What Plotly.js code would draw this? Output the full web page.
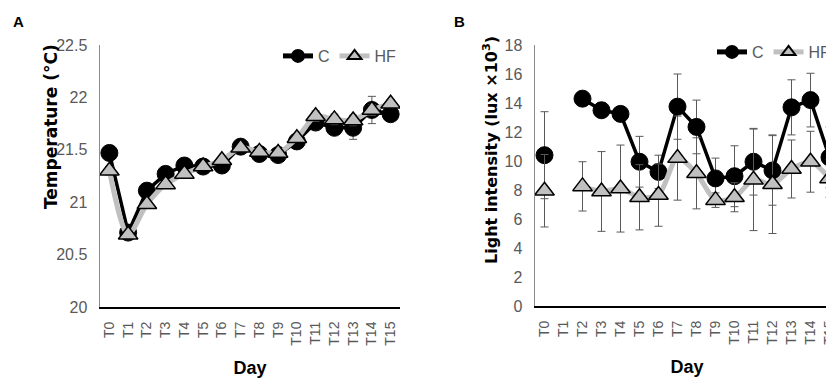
<!DOCTYPE html>
<html>
<head>
<meta charset="utf-8">
<script src="https://cdn.plot.ly/plotly-3.0.1.min.js"></script>
<style>
html, body { margin:0; padding:0; overflow:hidden; background:#fff; width:826px; height:378px; }
#chart { width:860px; height:378px; }
</style>
</head>
<body>
<div id="chart"></div>
<script>
// ---- data ----
var days = ["T0","T1","T2","T3","T4","T5","T6","T7","T8","T9","T10","T11","T12","T13","T14","T15"];

var tempC     = [21.47, 20.71, 21.11, 21.27, 21.35, 21.34, 21.35, 21.53, 21.46, 21.45, 21.58, 21.76, 21.71, 21.71, 21.88, 21.84];
var tempCErr  = [0.04, 0.04, 0.04, 0.03, 0.03, 0.03, 0.03, 0.03, 0.03, 0.03, 0.04, 0.05, 0.06, 0.11, 0.13, 0.04];
var tempHF    = [21.30, 20.69, 20.98, 21.17, 21.27, 21.34, 21.40, 21.52, 21.48, 21.47, 21.61, 21.82, 21.79, 21.78, 21.88, 21.94];
var tempHFErr = [0.04, 0.04, 0.04, 0.03, 0.03, 0.03, 0.03, 0.03, 0.03, 0.03, 0.04, 0.05, 0.05, 0.05, 0.05, 0.04];

var lightC     = [10.4, null, 14.3, 13.5, 13.25, 9.95, 9.25, 13.75, 12.35, 8.8, 8.95, 9.95, 9.35, 13.7, 14.2, 10.25];
var lightCErr  = [3.0, null, 0.5, 0.5, 0.5, 1.75, 1.15, 2.25, 1.85, 1.4, 2.1, 2.3, 2.4, 1.9, 1.85, 2.1];
var lightHF    = [7.95, null, 8.25, 7.9, 8.1, 7.5, 7.65, 10.2, 9.15, 7.3, 7.5, 8.7, 8.4, 9.45, 9.95, 8.8];
var lightHFErr = [2.5, null, 1.7, 2.75, 3.0, 2.25, 2.15, 2.9, 2.45, 0.5, 1.0, 3.5, 3.4, 2.0, 2.1, 1.3];

var yTitleA = "Temperature (°C)";
var yTitleB = "Light intensity (lux ×10<sup>3</sup>)";
var xTitle = "Day";

// ---- styles ----
var W = 860, H = 378;
var narrow = "Liberation Sans Narrow, Arial Narrow, sans-serif";
var wideBold = "DejaVu Sans, Arial, sans-serif";
var gray = "#595959";

function px(x){ return x / W; }
function py(y){ return 1 - y / H; }

function cTrace(y, err, xa, ya, leg){
  return {
    x: days, y: y, xaxis: xa, yaxis: ya, legend: leg, name: "C",
    type: "scatter", mode: "lines+markers", connectgaps: false,
    line: {color: "#000000", width: 3.5},
    marker: {symbol: "circle", size: 17, color: "#000000", line: {color: "#000000", width: 1}},
    error_y: {type: "data", array: err, visible: true, color: "#595959", thickness: 1, width: 4}
  };
}
function hfTrace(y, err, xa, ya, leg){
  return {
    x: days, y: y, xaxis: xa, yaxis: ya, legend: leg, name: "HF",
    type: "scatter", mode: "lines+markers", connectgaps: false,
    line: {color: "#c0c0c0", width: 5, shape: "spline", smoothing: 0.8},
    marker: {symbol: "triangle-up", size: 17, color: "#c0c0c0", line: {color: "#000000", width: 1.5}},
    error_y: {type: "data", array: err, visible: true, color: "#595959", thickness: 1, width: 4}
  };
}

var data = [
  cTrace(tempC, tempCErr, "x", "y", "legend"),
  hfTrace(tempHF, tempHFErr, "x", "y", "legend"),
  cTrace(lightC, lightCErr, "x2", "y2", "legend2"),
  hfTrace(lightHF, lightHFErr, "x2", "y2", "legend2")
];

function xAxis(domain, anchor){
  return {
    domain: domain, anchor: anchor, type: "category", range: [-0.5, 15.5],
    showline: true, linecolor: "#000000", linewidth: 2, mirror: false,
    ticks: "", showgrid: false, zeroline: false, tickangle: -90, ticklabelstandoff: 7,
    tickfont: {family: narrow, size: 14, color: gray},
    title: {text: xTitle, font: {family: narrow, size: 18, color: "#000000", weight: "bold"}, standoff: 17}
  };
}
function yAxis(domain, anchor, range, dtick){
  return {
    domain: domain, anchor: anchor, range: range, dtick: dtick,
    showline: true, linecolor: "#8c8c8c", linewidth: 1.5,
    ticks: "", showgrid: false, zeroline: false, ticklabelstandoff: 8,
    tickfont: {family: narrow, size: 16, color: gray}
  };
}

var legendStyle = {orientation: "h", xanchor: "left", yanchor: "middle", itemsizing: "constant",
  font: {family: narrow, size: 16, color: gray}, bgcolor: "rgba(0,0,0,0)", itemwidth: 30, tracegroupgap: 0};

var layout = {
  width: W, height: H,
  margin: {l: 0, r: 0, t: 0, b: 0},
  paper_bgcolor: "#ffffff", plot_bgcolor: "#ffffff",
  font: {family: narrow, color: gray},
  xaxis: xAxis([px(100), px(400)], "y"),
  yaxis: yAxis([py(307), py(45)], "x", [20, 22.5], 0.5),
  xaxis2: xAxis([px(535), px(839)], "y2"),
  yaxis2: yAxis([py(306), py(45)], "x2", [0, 18], 2),
  legend: Object.assign({x: px(278), y: py(56)}, legendStyle),
  legend2: Object.assign({x: px(712), y: py(52)}, legendStyle),
  showlegend: true,
  annotations: [
    {text: "<b>A</b>", xref: "paper", yref: "paper", x: px(18), y: py(22), xanchor: "center", yanchor: "middle",
     showarrow: false, font: {family: "Liberation Sans, Arial, sans-serif", size: 15, color: "#000000"}},
    {text: "<b>B</b>", xref: "paper", yref: "paper", x: px(459), y: py(22), xanchor: "center", yanchor: "middle",
     showarrow: false, font: {family: "Liberation Sans, Arial, sans-serif", size: 15, color: "#000000"}},
    {text: yTitleA, xref: "paper", yref: "paper", x: px(51), y: py(127), xanchor: "center", yanchor: "middle",
     textangle: -90, showarrow: false, font: {family: wideBold, size: 17, color: "#000000", weight: "bold"}},
    {text: yTitleB, xref: "paper", yref: "paper", x: px(491), y: py(150), xanchor: "center", yanchor: "middle",
     textangle: -90, showarrow: false, font: {family: wideBold, size: 16, color: "#000000", weight: "bold"}}
  ]
};

Plotly.newPlot("chart", data, layout, {displayModeBar: false, staticPlot: true});
</script>
</body>
</html>
